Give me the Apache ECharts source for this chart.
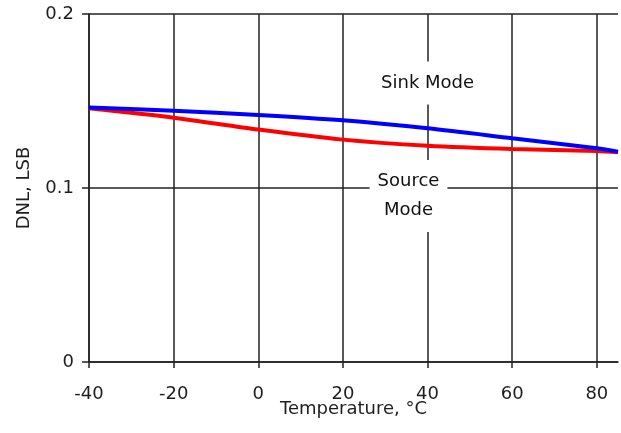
<!DOCTYPE html>
<html><head><meta charset="utf-8">
<script src="https://cdn.jsdelivr.net/npm/echarts@6/dist/echarts.min.js"></script>
<style>html,body{margin:0;padding:0;background:#fff}#c{width:621px;height:433px}</style>
</head><body><div id="c"></div>
<script>
const temperatures = [-40, -20, 0, 20, 40, 60, 80, 85];
const sinkMode = [0.1462, 0.1444, 0.1420, 0.1389, 0.1343, 0.1286, 0.1228, 0.1209];
const sourceMode = [0.1458, 0.1404, 0.1336, 0.1278, 0.1243, 0.1224, 0.1213, 0.1205];
const xTicks = [-40, -20, 0, 20, 40, 60, 80];
const yTicks = [0, 0.1, 0.2];
const annotationTexts = ['Sink Mode', 'Source\nMode'];
const annotationX = [40, 35.5];
const annotationY = [0.1603, 0.0954];

const FONT = 'DejaVu Sans';
const TXT = '#1e1e1e';
const chart = echarts.init(document.getElementById('c'), null, {renderer: 'canvas'});
chart.setOption({
  animation: false,
  backgroundColor: '#fff',
  textStyle: {fontFamily: FONT},
  grid: {left: 89, right: 3, top: 14, bottom: 71, show: false},
  xAxis: {
    type: 'value', min: -40, max: 85, interval: 20,
    name: 'Temperature, °C', nameLocation: 'middle', nameGap: 38, nameMoveOverlap: false,
    nameTextStyle: {fontFamily: FONT, fontSize: 18, color: TXT},
    axisLine: {show: true, onZero: false, lineStyle: {color: '#222', width: 1.5}},
    axisTick: {show: true, length: 6, customValues: xTicks, lineStyle: {color: '#222', width: 1.5}},
    axisLabel: {customValues: xTicks, margin: 23, fontFamily: FONT, fontSize: 18, color: TXT},
    splitLine: {show: true, lineStyle: {color: ['#222','#222','#222','#222','#222','#222','#222','#c8c8c8'], width: 1.5}}
  },
  yAxis: {
    type: 'value', min: 0, max: 0.2, interval: 0.1,
    name: 'DNL, LSB', nameLocation: 'middle', nameGap: 56, nameMoveOverlap: false,
    nameTextStyle: {fontFamily: FONT, fontSize: 18, color: TXT},
    axisLine: {show: true, onZero: false, lineStyle: {color: '#222', width: 1.5}},
    axisTick: {show: true, length: 7, customValues: yTicks, lineStyle: {color: '#222', width: 1.5}},
    axisLabel: {customValues: yTicks, margin: 15, fontFamily: FONT, fontSize: 18, color: TXT,
      formatter: v => String(v)},
    splitLine: {show: true, lineStyle: {color: '#222', width: 1.5}}
  },
  series: [
    {
      name: 'Source Mode', type: 'line', smooth: 0.3, showSymbol: false,
      data: temperatures.map((t, i) => [t, sourceMode[i]]),
      lineStyle: {color: '#ff0000', width: 4}, itemStyle: {color: '#ff0000'}
    },
    {
      name: 'Sink Mode', type: 'line', smooth: 0.3, showSymbol: false,
      data: temperatures.map((t, i) => [t, sinkMode[i]]),
      lineStyle: {color: '#0000ff', width: 4}, itemStyle: {color: '#0000ff'}
    },
    {
      name: 'annotations', type: 'scatter', symbol: 'circle', symbolSize: 0, silent: true, z: 5,
      itemStyle: {color: '#ffffff'},
      data: annotationX.map((x, i) => ({value: [x, annotationY[i]], text: annotationTexts[i]})),
      label: {
        show: true, position: 'inside', align: 'center', verticalAlign: 'middle',
        formatter: p => p.data.text,
        fontFamily: FONT, fontSize: 18, color: '#111', lineHeight: 29,
        textBorderWidth: 0, textBorderColor: 'transparent', opacity: 1,
        backgroundColor: '#fff', padding: [7, 8]
      }
    }
  ]
});
</script></body></html>
